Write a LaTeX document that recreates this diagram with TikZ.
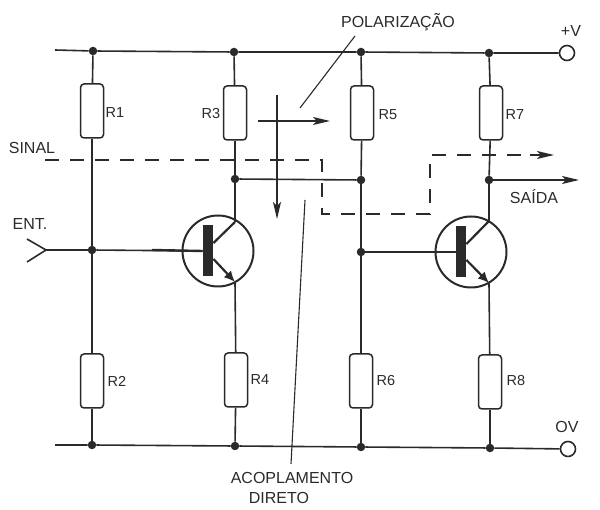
\documentclass[tikz,border=0pt]{standalone}
\usepackage{fontspec}
\setmainfont{Liberation Sans}
\usetikzlibrary{arrows.meta}
\definecolor{ink}{HTML}{2A2A2A}
\tikzset{
  wire/.style={draw=ink, line width=1.6pt},
  thin wire/.style={draw=ink, line width=1.1pt},
  res/.style={draw=ink, line width=1.5pt, rounded corners=3.5pt, minimum width=23pt, minimum height=54pt, inner sep=0pt},
  dot/.style={circle, fill=ink, minimum size=8.5pt, inner sep=0pt},
  term/.style={circle, draw=ink, line width=1.6pt, minimum size=15pt, inner sep=0pt},
  ring/.style={circle, draw=ink, line width=2pt, minimum size=71pt, inner sep=0pt},
  bar/.style={fill=ink, minimum width=10.5pt, minimum height=51pt, inner sep=0pt},
  lab/.style={text=ink, font=\fontsize{16}{17}\selectfont, inner sep=0pt},
  rlab/.style={text=ink, font=\fontsize{14.5}{15}\selectfont, inner sep=0pt},
  sig/.style={draw=ink, line width=1.1pt, dash pattern=on 14pt off 11pt},
  tip/.style={-{Stealth[length=17pt,width=8pt,inset=4pt]}}
}
\begin{document}
\begin{tikzpicture}[x=1pt, y=-1pt]
  \useasboundingbox (0,0) rectangle (600,510);

  % Rails
  \coordinate (topL) at (55,50);
  \node[term] (vcc) at (567,53) {};
  \coordinate (botL) at (55,445);
  \node[term] (gnd) at (568,449) {};
  \node[dot] (t1) at (93,51) {};
  \node[dot] (t3) at (234,52) {};
  \node[dot] (t5) at (361,52) {};
  \node[dot] (t7) at (489,53) {};
  \node[dot] (b2) at (92,445) {};
  \node[dot] (b4) at (235,446) {};
  \node[dot] (b6) at (361,447) {};
  \node[dot] (b8) at (490,448) {};
  \draw[wire] (topL) -- (t1) -- (t3) -- (t5) -- (t7) -- (vcc);
  \draw[wire] (botL) -- (b2) -- (b4) -- (b6) -- (b8) -- (gnd);

  % Resistors
  \node[res] (R1) at (92,111) {};
  \node[res] (R3) at (235,113) {};
  \node[res] (R5) at (362,113) {};
  \node[res] (R7) at (491,113) {};
  \node[res] (R2) at (92,381) {};
  \node[res] (R4) at (236,380) {};
  \node[res] (R6) at (361,381) {};
  \node[res] (R8) at (490,382) {};

  % Junctions
  \node[dot] (inJ) at (92,250) {};
  \node[dot] (c1) at (235,179) {};
  \node[dot] (c2) at (361,180) {};
  \node[dot] (out) at (489,180) {};
  \node[dot] (inJ2) at (361,252) {};

  % Transistor 1
  \node[ring] (Q1) at (218,251) {};
  \node[bar] (Q1b) at (208,251) {};
  \coordinate (Q1c) at (235,222);
  \coordinate (Q1e) at (235,282);
  \draw[wire, line width=2.4pt] (inJ) ++(60,0) -- (Q1b.west);
  \draw[wire, line width=2.2pt] (Q1b.east |- 0,243) -- (Q1c);
  \draw[wire, line width=2.2pt, -{Latex[length=11pt,width=10pt]}] (Q1b.east |- 0,259) -- (Q1e);

  % Transistor 2
  \node[ring] (Q2) at (471,252) {};
  \node[bar] (Q2b) at (461,252) {};
  \coordinate (Q2c) at (489,221);
  \coordinate (Q2e) at (489,283);
  \draw[wire, line width=2.4pt] (inJ2) ++(60,0) -- (Q2b.west);
  \draw[wire, line width=2.2pt] (Q2b.east |- 0,244) -- (Q2c);
  \draw[wire, line width=2.2pt, -{Latex[length=11pt,width=10pt]}] (Q2b.east |- 0,260) -- (Q2e);

  % Wiring
  \draw[wire] (t1) -- (R1);
  \draw[wire] (R1) -- (inJ);
  \draw[wire] (inJ) -- (R2);
  \draw[wire] (R2) -- (b2);
  \draw[wire] (t3) -- (R3);
  \draw[wire] (R3) -- (c1);
  \draw[wire] (c1) -- (Q1c);
  \draw[wire] (Q1e) -- (R4);
  \draw[wire] (R4) -- (b4);
  \draw[wire] (t5) -- (R5);
  \draw[wire] (R5) -- (c2);
  \draw[wire] (c2) -- (inJ2);
  \draw[wire] (inJ2) -- (R6);
  \draw[wire] (R6) -- (b6);
  \draw[wire] (t7) -- (R7);
  \draw[wire] (R7) -- (out);
  \draw[wire] (out) -- (Q2c);
  \draw[wire] (Q2e) -- (R8);
  \draw[wire] (R8) -- (b8);
  \draw[wire] (c1) -- (c2);
  \draw[wire] (inJ) -- (Q1b.west);
  \draw[wire] (inJ2) -- (Q2b.west);

  % Input
  \coordinate (entA) at (27,239);
  \coordinate (entB) at (46,250);
  \coordinate (entC) at (27,262);
  \draw[wire] (entA) -- (entB) -- (entC);
  \draw[wire] (entB) -- (inJ);

  % Output
  \coordinate (saidaEnd) at (579,180);
  \draw[wire, tip] (out) -- (saidaEnd);

  % Signal path
  \coordinate (s0) at (45,160);
  \coordinate (s1) at (322,160);
  \coordinate (s2) at (322,214);
  \coordinate (s3) at (430,214);
  \coordinate (s4) at (430,155);
  \coordinate (s5) at (554,155);
  \draw[sig] (s0) -- (s1) -- (s2) -- (s3) -- (s4) -- (s5);
  \coordinate (s6) at (530,155);
  \draw[wire, tip] (s6) -- (s5);

  % Bias arrows
  \coordinate (hA) at (258,121);
  \coordinate (hB) at (330,121);
  \coordinate (vA) at (277,95);
  \coordinate (vB) at (277,219);
  \draw[wire, tip] (hA) -- (hB);
  \draw[thin wire, tip] (vA) -- (vB);

  % Leaders
  \coordinate (polA) at (355,36);
  \coordinate (polB) at (300,108);
  \coordinate (acoA) at (305,200);
  \coordinate (acoB) at (291,464);
  \draw[thin wire] (polA) -- (polB);
  \draw[thin wire] (acoA) -- (acoB);

  % Labels
  \node[rlab] (lR1) at (115,113) {R1};
  \node[rlab] (lR3) at (211,114) {R3};
  \node[rlab] (lR5) at (388,115) {R5};
  \node[rlab] (lR7) at (515,115) {R7};
  \node[rlab] (lR2) at (117,381) {R2};
  \node[rlab] (lR4) at (260,380) {R4};
  \node[rlab] (lR6) at (386,381) {R6};
  \node[rlab] (lR8) at (516,381) {R8};
  \node[lab] (lSinal) at (32,148) {SINAL};
  \node[lab] (lEnt) at (30,224) {ENT.};
  \node[lab] (lPol) at (398,22) {POLARIZAÇÃO};
  \node[lab] (lV) at (571,31) {+V};
  \node[lab] (lZero) at (567,427) {OV};
  \node[lab] (lSaida) at (534,197) {SAÍDA};
  \node[lab] (lAco) at (292,478) {ACOPLAMENTO};
  \node[lab] (lDir) at (279,498) {DIRETO};
\end{tikzpicture}
\end{document}
